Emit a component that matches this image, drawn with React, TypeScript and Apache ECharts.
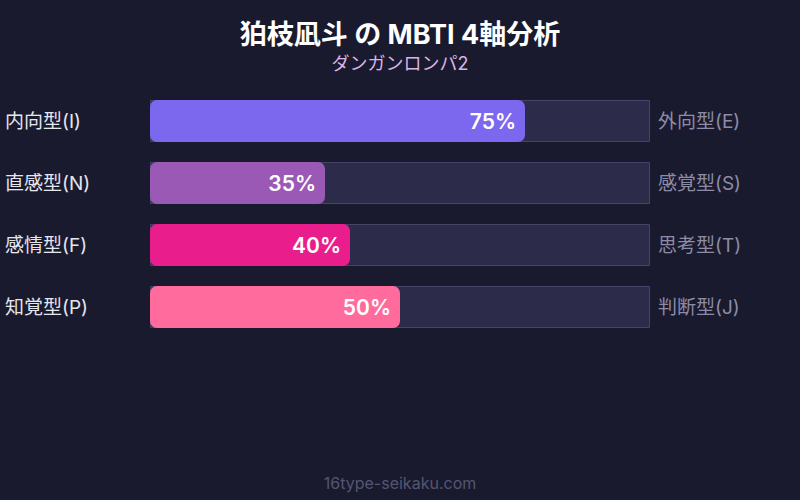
import React, { useEffect, useRef } from "react";
import * as echarts from "echarts";

const leftLabels = ["内向型(I)", "直感型(N)", "感情型(F)", "知覚型(P)"];
const rightLabels = ["外向型(E)", "感覚型(S)", "思考型(T)", "判断型(J)"];
const values = [75, 35, 40, 50];
const barColors = ["#7b68ee", "#9b59b6", "#e91e8c", "#ff6b9d"];
const trackValues = [100, 100, 100, 100];

const FONT = "Inter, 'Noto Sans CJK JP', sans-serif";

export default function App() {
  const ref = useRef<HTMLDivElement>(null);
  useEffect(() => {
    if (!ref.current) return;
    const chart = echarts.init(ref.current, null, { renderer: "svg" });
    chart.setOption({
      animation: false,
      backgroundColor: "#1a1a2e",
      textStyle: { fontFamily: FONT },
      title: [
        {
          text: "狛枝凪斗 の MBTI 4軸分析",
          left: "center",
          top: 16,
          textStyle: { color: "#ffffff", fontSize: 27, fontWeight: "bold", fontFamily: FONT },
        },
        {
          text: "ダンガンロンパ2",
          left: "center",
          top: 49,
          textStyle: { color: "#dab6e6", fontSize: 18, fontWeight: "normal", fontFamily: FONT },
        },
        {
          text: "16type-seikaku.com",
          left: "center",
          top: 470,
          textStyle: { color: "#555572", fontSize: 16, fontWeight: "normal", fontFamily: FONT },
        },
      ],
      grid: { left: 150, right: 150, top: 90, bottom: 162, containLabel: false },
      xAxis: {
        type: "value",
        min: 0,
        max: 100,
        show: false,
      },
      yAxis: [
        {
          type: "category",
          data: leftLabels,
          inverse: true,
          position: "left",
          axisLine: { show: false },
          axisTick: { show: false },
          axisLabel: {
            color: "#e6e6ee",
            fontSize: 19,
            align: "left",
            margin: 145,
            fontFamily: FONT,
          },
        },
        {
          type: "category",
          data: rightLabels,
          inverse: true,
          position: "right",
          axisLine: { show: false },
          axisTick: { show: false },
          axisLabel: {
            color: "#8c8ca6",
            fontSize: 19,
            align: "left",
            margin: 8,
            fontFamily: FONT,
          },
        },
      ],
      series: [
        {
          type: "bar",
          yAxisIndex: 0,
          data: trackValues,
          barWidth: 42,
          silent: true,
          itemStyle: { color: "#2d2b4a", borderColor: "#454468", borderWidth: 1 },
          z: 1,
        },
        {
          type: "bar",
          yAxisIndex: 0,
          barGap: "-100%",
          barWidth: 42,
          data: values.map((v, i) => ({ value: v, itemStyle: { color: barColors[i] } })),
          itemStyle: { borderRadius: 7 },
          label: {
            show: true,
            position: "insideRight",
            distance: 9,
            formatter: "{c}%",
            color: "#ffffff",
            fontSize: 21,
            fontWeight: 600,
            fontFamily: FONT,
          },
          z: 2,
        },
      ],
    });
    return () => chart.dispose();
  }, []);
  return <div ref={ref} style={{ width: 800, height: 500, position: "absolute", left: 0, top: 0 }} />;
}
